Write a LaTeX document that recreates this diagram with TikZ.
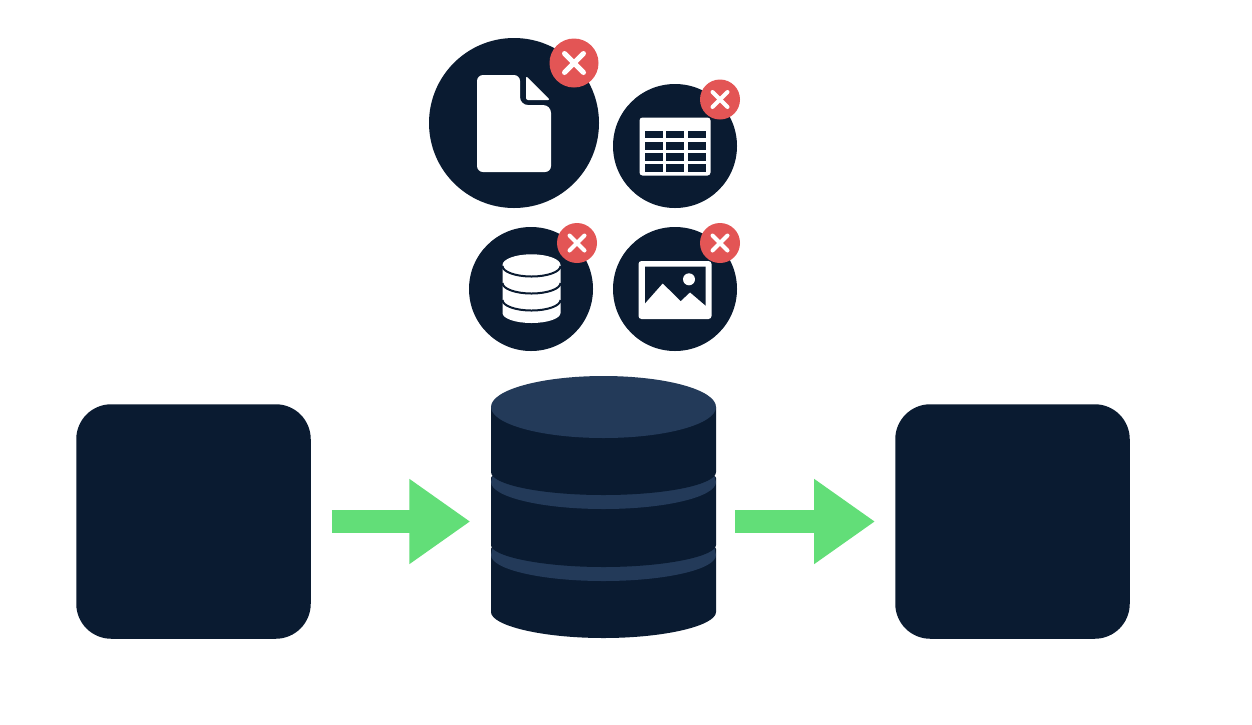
\documentclass[tikz,border=0pt]{standalone}
\usepackage{xcolor}
\usepackage{tikz}
\usetikzlibrary{positioning,arrows.meta,shapes.geometric}
\definecolor{navy}{HTML}{0A1B31}
\definecolor{slate}{HTML}{233A59}
\definecolor{badgered}{HTML}{E35555}
\definecolor{arrowgreen}{HTML}{62DE78}
\tikzset{endbox/.style={rectangle,rounded corners=35,fill=navy,minimum size=234.5pt,inner sep=0pt}}
\tikzset{iconbig/.style={circle,fill=navy,minimum size=170pt,inner sep=0pt}}
\tikzset{iconsmall/.style={circle,fill=navy,minimum size=124pt,inner sep=0pt}}
\tikzset{badgebig/.style={circle,fill=badgered,minimum size=49pt,inner sep=0pt}}
\tikzset{badgesmall/.style={circle,fill=badgered,minimum size=40pt,inner sep=0pt}}
\tikzset{crossline/.style={draw=white,line cap=round}}
\tikzset{arr/.style={draw=arrowgreen,line width=23pt,-{Triangle[length=61pt,width=81pt]},shorten <=21pt,shorten >=20.5pt}}
\tikzset{storeouter/.style={rectangle,minimum width=225pt,minimum height=263pt,inner sep=0pt}}

\begin{document}
\begin{tikzpicture}[x=1pt,y=-1pt]
\useasboundingbox (0,0) rectangle (1252,724);
\fill[white] (0,0) rectangle (1252,724);

\node[endbox] at (193.5, 521.5) (source) {};
\node[endbox] at (1012.5, 521.5) (target) {};
\node[storeouter] at (603.5, 507.5) (store) {};

% database tiers, bottom one first
\fill[navy,rounded corners=2] (491,547) -- (491,610) arc[start angle=180,end angle=0,x radius=112.5,y radius=28] -- (716,547) -- cycle;
\fill[slate] (491,555) arc[start angle=180,end angle=0,x radius=112.5,y radius=26] -- (713.5,544) -- (493.5,544) -- cycle;
\fill[navy,rounded corners=2] (491,476) -- (491,543) arc[start angle=180,end angle=0,x radius=112.5,y radius=24] -- (716,476) -- cycle;
\fill[slate] (491,482) arc[start angle=180,end angle=0,x radius=112.5,y radius=27] -- (713.5,473) -- (493.5,473) -- cycle;
\fill[navy] (491,407) -- (491,472) arc[start angle=180,end angle=0,x radius=112.5,y radius=23] -- (716,407) -- cycle;
\fill[slate] (603.5,407) ellipse[x radius=112.5,y radius=31];

\draw[arr] (source.east) -- (source.east -| store.west);
\draw[arr,shorten <=19pt,shorten >=20pt] (target.west -| store.east) -- (target.west);

\node[iconbig] at (514, 123) (fileicon) {};
\node[iconsmall] at (675, 146) (tableicon) {};
\node[iconsmall] at (531, 289) (dbicon) {};
\node[iconsmall] at (675, 289) (imageicon) {};

% file
\fill[white,rounded corners=6] (477,75) -- (520,75) [sharp corners] -- (520,97) [rounded corners=8] -- (520,105) -- (551,105) [rounded corners=6] -- (551,172) -- (477,172) -- cycle;
\fill[white,rounded corners=2] (526,76) -- (550,100) -- (526,100) -- cycle;

% table
\fill[white,rounded corners=3] (639.5,117.5) rectangle (710.5,175.5);
\foreach \col in {644.5,666,687.5}
	\foreach \row in {131,142.3,153.3,164.3}
		\fill[navy] (\col,\row) rectangle ++(18,7.3);

% database icon
\fill[white] (502.5,265) -- (502.5,313) arc[start angle=180,end angle=0,x radius=29,y radius=10] -- (560.5,265) arc[start angle=360,end angle=180,x radius=29,y radius=10.7] -- cycle;
\foreach \row in {266,283,300}
	\draw[navy,line width=2pt] (502.5,\row) arc[start angle=180,end angle=0,x radius=29,y radius=10.5];

% image
\fill[white,rounded corners=3] (638.5,261) rectangle (711.5,319);
\fill[navy] (645,266.7) -- (705.7,266.7) -- (705.7,305.7) -- (690,292.3) -- (680.7,301) -- (662.7,283.3) -- (645,303.3) -- cycle;
\fill[white] (689,279.3) circle[radius=6];

\node[badgebig] at (574, 63) (filebadge) {};
\node[badgesmall] at (720, 99.5) (tablebadge) {};
\node[badgesmall] at (577, 243) (dbbadge) {};
\node[badgesmall] at (720, 243) (imagebadge) {};

\foreach \badge/\len/\wid in {filebadge/9.5/5,tablebadge/7.5/4,dbbadge/7.5/4,imagebadge/7.5/4} {
	\draw[crossline,line width=\wid pt] ([shift={(-\len,-\len)}]\badge.center) -- ([shift={(\len,\len)}]\badge.center);
	\draw[crossline,line width=\wid pt] ([shift={(-\len,\len)}]\badge.center) -- ([shift={(\len,-\len)}]\badge.center);
}
\end{tikzpicture}
\end{document}
